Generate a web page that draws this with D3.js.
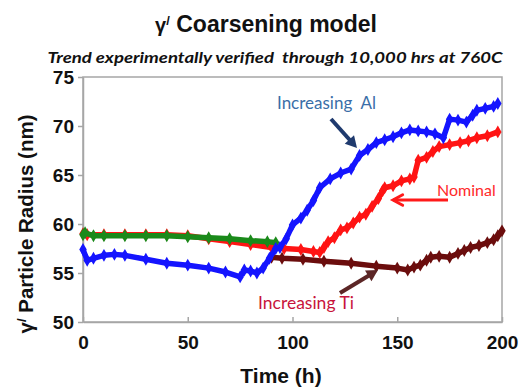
<!DOCTYPE html>
<html>
<head>
<meta charset="utf-8">
<script src="https://cdn.jsdelivr.net/npm/d3@7"></script>
<style>
  body { margin: 0; background: #fff; }
  text { font-family: Arial, "Liberation Sans", sans-serif; white-space: pre; }
</style>
</head>
<body>
<svg id="canvas" width="529" height="387"></svg>
<script>
// ---------------------------------------------------------------- //
// Data: [time h, radius nm]

var xTicks = [0, 50, 100, 150, 200];
var yTicks = [50, 55, 60, 65, 70, 75];

var green = [[0,58.9],[1,59.1],[5,58.8],[10,58.8],[20,58.8],[30,58.8],[40,58.8],[50,58.7],[60,58.6],[70,58.5],[80,58.3],[88,58.2],[92,58.1]];

var red = [[0,59.0],[2,58.9],[10,58.9],[20,58.9],[30,58.9],[40,58.9],[50,58.8],[60,58.5],[70,58.2],[80,57.9],[90,57.6],[96,57.5],[104,57.4],[110,57.2],[113,57.1],
  [115,57.6],[117,58.2],[120,58.6],[123,59.4],[126,59.6],[129,60.1],[132,60.7],[135,61.0],[138,61.8],[141,62.6],[143,63.4],
  [144,63.7],[148,63.9],[152,64.4],[156,64.6],[158,64.8],[160,66.5],[164,66.8],[167,67.4],[170,67.9],[175,68.1],[180,68.3],[184,68.5],[188,68.8],[193,69.0],[198,69.4]];

var blue = [[0,57.4],[2,56.3],[5,56.5],[10,56.8],[15,56.9],[20,56.8],[30,56.4],[40,56.0],[50,55.8],[60,55.5],[68,55.1],[75,54.6],
  [77,55.3],[80,55.2],[83,55.0],[86,55.5],[89,56.5],[92,57.5],[94,57.6],[97,58.5],[100,59.9],[104,60.6],[107,61.4],[110,62.4],[113,63.7],
  [118,64.6],[123,65.2],[128,65.6],[132,67.0],[136,67.6],[140,68.3],[144,68.6],[148,68.9],[152,69.3],[156,69.6],[160,69.5],[164,69.4],[168,69.2],[172,68.8],
  [175,70.7],[179,70.6],[183,70.4],[186,71.1],[188,71.6],[192,71.8],[196,72.0],[198,72.3]];

var ti = [[90,56.6],[95,56.5],[105,56.4],[115,56.2],[128,56.0],[140,55.7],[150,55.5],[155,55.3],[158,55.6],[161,55.8],[164,56.3],[166,56.6],[170,56.7],[175,56.6],
  [179,57.0],[182,57.3],[185,57.6],[189,57.8],[193,58.1],[196,58.4],[198,58.8],[200,59.3]];

var series = [
  { name: 'Increasing Ti', color: '#6b0d0d', values: ti },
  { name: 'Nominal', color: '#ff1414', values: red },
  { name: 'Green', color: '#1a8a1a', values: green },
  { name: 'Increasing Al', color: '#1414ff', values: blue }
];

// ---------------------------------------------------------------- //
// Create

var svg = d3.select('#canvas');
var plot = { left: 83, right: 502, top: 77, bottom: 322 };

var xScale = d3.scaleLinear().domain([0, 200]).range([plot.left, plot.right]);
var yScale = d3.scaleLinear().domain([50, 75]).range([plot.bottom, plot.top]);

// frame
svg.append('rect')
  .attr('x', plot.left).attr('y', plot.top)
  .attr('width', plot.right - plot.left).attr('height', plot.bottom - plot.top)
  .style('fill', 'none').style('stroke', '#a6a6a6').style('stroke-width', 1.5);

var xAxis = svg.append('g').attr('transform', 'translate(0,' + plot.bottom + ')')
  .call(d3.axisBottom(xScale).tickValues(xTicks).tickSizeInner(-5).tickSizeOuter(0).tickPadding(14));
var yAxis = svg.append('g').attr('transform', 'translate(' + plot.left + ',0)')
  .call(d3.axisLeft(yScale).tickValues(yTicks).tickSizeInner(5).tickSizeOuter(0).tickPadding(4));

[xAxis, yAxis].forEach(function(ax){
  ax.select('.domain').style('stroke', '#a6a6a6').style('stroke-width', 1.5);
  ax.selectAll('.tick line').style('stroke', '#a6a6a6').style('stroke-width', 1.5);
  ax.selectAll('.tick text').style('font-size', '19px').style('font-weight', 'bold').style('fill', '#111')
    .style('font-family', 'Arial, "Liberation Sans", sans-serif');
});

// series: thick band of diamonds
var lineGen = d3.line().x(function(d){ return xScale(d[0]); }).y(function(d){ return yScale(d[1]); });
var diamond = d3.symbol().type(d3.symbolDiamond).size(48);

series.forEach(function(s){
  var g = svg.append('g');
  g.append('path').attr('d', lineGen(s.values))
    .style('fill', 'none').style('stroke', s.color).style('stroke-width', 5.5).style('stroke-linejoin', 'round');
  g.selectAll('path.pt').data(s.values).enter().append('path')
    .attr('class', 'pt')
    .attr('d', diamond)
    .attr('transform', function(d){ return 'translate(' + xScale(d[0]) + ',' + yScale(d[1]) + ')'; })
    .style('fill', s.color);
});

// ---------------------------------------------------------------- //
// Annotations

function arrow(x1, y1, x2, y2, color, w, head, filled){
  var a = Math.atan2(y2 - y1, x2 - x1), sp = 0.5;
  var p1 = [x2 - head*Math.cos(a - sp), y2 - head*Math.sin(a - sp)];
  var p2 = [x2 - head*Math.cos(a + sp), y2 - head*Math.sin(a + sp)];
  svg.append('line').attr('x1', x1).attr('y1', y1)
    .attr('x2', x2 - (filled ? head*0.7*Math.cos(a) : 0)).attr('y2', y2 - (filled ? head*0.7*Math.sin(a) : 0))
    .style('stroke', color).style('stroke-width', w);
  if(filled){
    svg.append('path').attr('d', 'M' + x2 + ',' + y2 + 'L' + p1 + 'L' + p2 + 'Z').style('fill', color);
  } else {
    svg.append('path').attr('d', 'M' + p1 + 'L' + x2 + ',' + y2 + 'L' + p2)
      .style('fill', 'none').style('stroke', color).style('stroke-width', w).style('stroke-linecap', 'round');
  }
}

var labelFont = 'Lato, "Open Sans", sans-serif';

svg.append('text').attr('x', 277).attr('y', 109).text('Increasing  Al')
  .style('font-family', labelFont).style('font-size', '17px').style('fill', '#3a6ea8');
arrow(331, 119, 357, 148, '#1f3a6e', 4, 13, true);

svg.append('text').attr('x', 437).attr('y', 196).text('Nominal')
  .style('font-family', labelFont).style('font-size', '16px').style('fill', '#ff2a2a');
arrow(448, 200, 393, 200, '#ff1a1a', 3, 11, false);

svg.append('text').attr('x', 258).attr('y', 309).text('Increasing Ti')
  .style('font-family', labelFont).style('font-size', '17.5px').style('fill', '#c8143c');
arrow(340, 293, 378, 270, '#5c2626', 4, 13, true);

// titles
svg.append('text').attr('x', 266).attr('y', 32).attr('text-anchor', 'middle')
  .style('font-size', '23px').style('font-weight', 'bold').style('fill', '#111')
  .html('<tspan style="font-size:20px">γ</tspan><tspan dy="-7" style="font-size:13px">/</tspan><tspan dy="7"> Coarsening model</tspan>');

svg.append('text').attr('x', 275).attr('y', 63).attr('text-anchor', 'middle')
  .attr('textLength', 455).attr('lengthAdjust', 'spacingAndGlyphs')
  .style('font-family', labelFont).style('font-style', 'italic').style('font-weight', 'bold')
  .style('font-size', '15.5px').style('fill', '#111')
  .text('Trend experimentally verified  through 10,000 hrs at 760C');

svg.append('text').attr('x', 281).attr('y', 383).attr('text-anchor', 'middle')
  .style('font-size', '21px').style('font-weight', 'bold').style('fill', '#111')
  .text('Time (h)');

svg.append('text').attr('transform', 'translate(33,224) rotate(-90)').attr('text-anchor', 'middle')
  .style('font-size', '20.5px').style('font-weight', 'bold').style('fill', '#111')
  .html('<tspan>γ</tspan><tspan dy="-7" style="font-size:13px">/</tspan><tspan dy="7"> Particle Radius (nm)</tspan>');
</script>
</body>
</html>
